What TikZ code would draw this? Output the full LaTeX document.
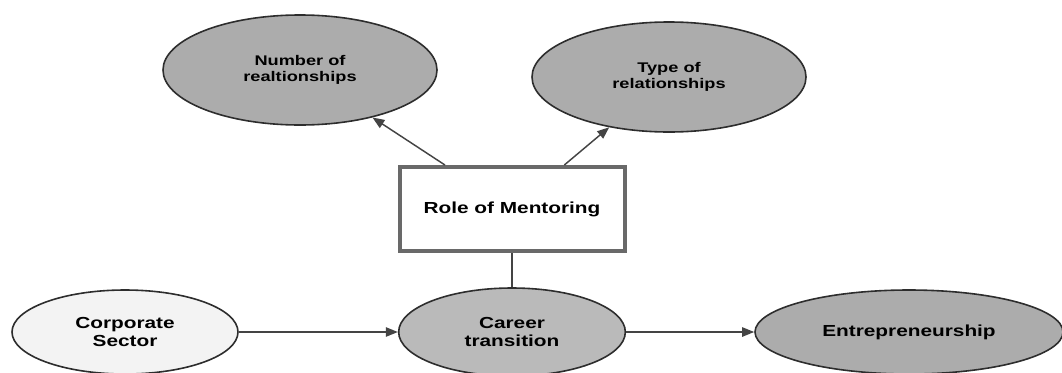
\documentclass[tikz,border=0pt]{standalone}
\usepackage{fontspec}
\setmainfont[FakeStretch=1.3]{Liberation Sans}
\usetikzlibrary{shapes.geometric,arrows.meta}

\tikzset{every picture/.style={line width=0.75pt}}
\tikzset{
	oval/.style={ellipse, draw={rgb, 255:red, 45; green, 45; blue, 45 }, line width=1.2pt,
		fill={rgb, 255:red, 172; green, 172; blue, 172 }, inner sep=0pt, align=center,
		font=\fontsize{12}{13}\selectfont\bfseries},
	small oval/.style={oval, font=\fontsize{10.5}{12}\selectfont\bfseries},
	role box/.style={rectangle, draw={rgb, 255:red, 105; green, 105; blue, 105 }, line width=3pt,
		fill=white, inner sep=0pt, minimum width=168.75pt, minimum height=63pt,
		font=\fontsize{12}{13}\selectfont\bfseries},
	link/.style={draw={rgb, 255:red, 68; green, 68; blue, 68 }, line width=1.1pt},
	arrow/.style={link, -{Triangle[length=9pt,width=7pt]}}
}

\begin{document}
\begin{tikzpicture}[x=0.75pt,y=0.75pt,yscale=-1,xscale=1]
	\useasboundingbox (0,0) rectangle (1062,372);

	%Shape: Ellipse [id:num]
	\node [small oval, minimum width=205.5pt, minimum height=82.5pt] (num) at (300,70) {Number of\\realtionships};
	%Shape: Ellipse [id:type]
	\node [small oval, minimum width=205.5pt, minimum height=82.5pt] (type) at (669,77) {Type of\\relationships};
	%Shape: Rectangle [id:role]
	\node [role box] (role) at (512,209) {Role of Mentoring};
	%Shape: Ellipse [id:corp]
	\node [oval, fill={rgb, 255:red, 243; green, 243; blue, 243 }, minimum width=169.5pt, minimum height=63pt] (corp) at (125,332) {Corporate\\Sector};
	%Shape: Ellipse [id:career]
	\node [oval, fill={rgb, 255:red, 186; green, 186; blue, 186 }, minimum width=170pt, minimum height=66pt] (career) at (512,332) {Career\\transition};
	%Shape: Ellipse [id:entre]
	\node [oval, minimum width=231pt, minimum height=63pt] (entre) at (909,332) {Entrepreneurship};

	%Straight Lines
	\draw [arrow] (role) -- (num);
	\draw [arrow] (role) -- (type);
	\draw [link] (role) -- (career);
	\draw [arrow] (corp) -- (career);
	\draw [arrow] (career) -- (entre);

\end{tikzpicture}
\end{document}
